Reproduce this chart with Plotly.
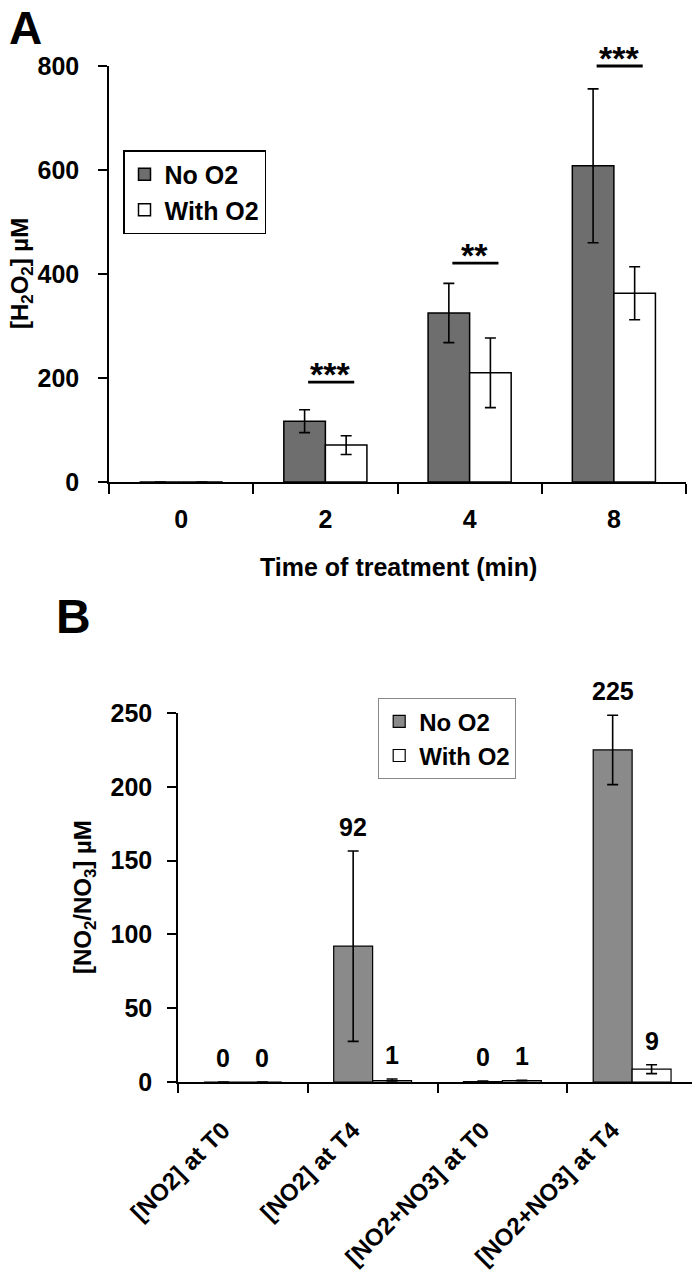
import plotly.graph_objects as go

# ---------------- Panel A data ----------------
time_labels = ["0", "2", "4", "8"]
a_no_o2 = [0, 117, 325, 608]
a_no_o2_err = [0, 22, 57, 148]
a_with_o2 = [0, 71, 210, 363]
a_with_o2_err = [0, 18, 67, 51]
sig_text = ["", "***", "**", "***"]
sig_level = [None, 192, 421, 800]
a_yticks = [0, 200, 400, 600, 800]

# ---------------- Panel B data ----------------
b_cats = ["[NO2] at T0", "[NO2] at T4", "[NO2+NO3] at T0", "[NO2+NO3] at T4"]
b_no_o2 = [0, 92, 0.3, 225]
b_no_o2_err = [0, 64.5, 0.3, 23.5]
b_with_o2 = [0, 1, 1, 8.7]
b_with_o2_err = [0, 1, 0.2, 3]
b_yticks = [0, 50, 100, 150, 200, 250]

FONT = "Liberation Sans, Arial, sans-serif"
DARK_A = "#6e6e6e"
DARK_B = "#8a8a8a"
WA = 0.288  # bar width (fraction of category) panel A
WB = 0.30   # panel B

# page offset (browser body margin) and figure size
OFF = 8
W, H = 700 - OFF, 1272 - OFF


def px(x):
    return (x - OFF) / W


def py(y):
    return 1 - (y - OFF) / H


fig = go.Figure()


def err(arr):
    return dict(type="data", array=arr, visible=True, color="black", thickness=1.6, width=5.5)


# Panel A bars
fig.add_trace(go.Bar(x=time_labels, y=a_no_o2, name="No O2", width=WA, offset=-WA,
                     marker=dict(color=DARK_A, line=dict(color="black", width=1.5)),
                     error_y=err(a_no_o2_err), xaxis="x", yaxis="y", legend="legend"))
fig.add_trace(go.Bar(x=time_labels, y=a_with_o2, name="With O2", width=WA, offset=0,
                     marker=dict(color="white", line=dict(color="black", width=1.5)),
                     error_y=err(a_with_o2_err), xaxis="x", yaxis="y", legend="legend"))

# Panel B bars
fig.add_trace(go.Bar(x=b_cats, y=b_no_o2, name="No O2", width=WB, offset=-WB,
                     marker=dict(color=DARK_B, line=dict(color="black", width=1.2)),
                     error_y=err(b_no_o2_err), xaxis="x2", yaxis="y2", legend="legend2"))
fig.add_trace(go.Bar(x=b_cats, y=b_with_o2, name="With O2", width=WB, offset=0,
                     marker=dict(color="white", line=dict(color="black", width=1.2)),
                     error_y=err(b_with_o2_err), xaxis="x2", yaxis="y2", legend="legend2"))

annotations = []

# significance markers panel A
for i, (t, h) in enumerate(zip(sig_text, sig_level)):
    if not t:
        continue
    x0, x1 = i - 0.13, i + 0.20
    annotations.append(dict(x=x1, y=h, ax=x0, ay=h, xref="x", yref="y", axref="x", ayref="y",
                            text=" ", showarrow=True, arrowhead=0, arrowwidth=2.8,
                            arrowcolor="black", standoff=0, startstandoff=0,
                            font=dict(size=1)))
    annotations.append(dict(x=(x0 + x1) / 2, y=h, xref="x", yref="y", text=t, showarrow=False,
                            xanchor="center", yanchor="bottom", yshift=-13,
                            font=dict(size=34, color="black")))

# value labels panel B
for i in range(len(b_cats)):
    for v, e, off in ((b_no_o2[i], b_no_o2_err[i], -WB / 2), (b_with_o2[i], b_with_o2_err[i], WB / 2)):
        annotations.append(dict(x=i + off, y=v + e, xref="x2", yref="y2", text=str(int(round(v))),
                                showarrow=False, xanchor="center", yanchor="bottom", yshift=8,
                                font=dict(size=25, color="black")))

# titles / panel letters
common = dict(xref="paper", yref="paper", showarrow=False, xanchor="center", yanchor="middle")
annotations += [
    dict(x=px(25), y=py(28), text="A", font=dict(size=46, color="black"), **common),
    dict(x=px(73), y=py(616), text="B", font=dict(size=48, color="black"), **common),
    dict(x=px(21), y=py(274), text="[H<sub>2</sub>O<sub>2</sub>] µM", textangle=-90,
         font=dict(size=24, color="black"), **common),
    dict(x=px(398), y=py(567), text="Time of treatment (min)", font=dict(size=25, color="black"), **common),
    dict(x=px(84), y=py(897), text="[NO<sub>2</sub>/NO<sub>3</sub>] µM", textangle=-90,
         font=dict(size=24, color="black"), **common),
]

axis_common = dict(showline=True, linecolor="black", linewidth=1.5, ticks="outside", tickcolor="black",
                   tickwidth=1.5, showgrid=False, zeroline=False, automargin=False)

fig.update_layout(
    template="none",
    width=W, height=H,
    margin=dict(l=0, r=0, t=0, b=0, autoexpand=False),
    paper_bgcolor="white", plot_bgcolor="white",
    font=dict(family=FONT, weight="bold", color="black"),
    barmode="overlay",
    showlegend=True,
    xaxis=dict(domain=[px(109), px(686)], anchor="y", type="category", tickson="boundaries",
               ticklen=10, ticklabelstandoff=14, tickfont=dict(size=25, color="black"), **axis_common),
    yaxis=dict(domain=[py(482), py(66)], anchor="x", range=[0, 800], tickvals=a_yticks,
               ticklen=9, ticklabelstandoff=14, tickfont=dict(size=25, color="black"), **axis_common),
    xaxis2=dict(domain=[px(178), px(697)], anchor="y2", type="category", tickson="boundaries",
                ticklen=9, tickangle=-45, ticklabelstandoff=23, ticklabelshift=-20,
                tickfont=dict(size=24, color="black"), **axis_common),
    yaxis2=dict(domain=[py(1082), py(713)], anchor="x2", range=[0, 250], tickvals=b_yticks,
                ticklen=9, ticklabelstandoff=10, tickfont=dict(size=25, color="black"), **axis_common),
    legend=dict(x=px(123), y=py(150), xanchor="left", yanchor="top", bgcolor="white",
                bordercolor="black", borderwidth=1.5, font=dict(size=25, color="black")),
    legend2=dict(x=px(378), y=py(698), xanchor="left", yanchor="top", bgcolor="white",
                 bordercolor="#888888", borderwidth=1.2, font=dict(size=24, color="black")),
    annotations=annotations,
)

fig.write_html("out.html")
